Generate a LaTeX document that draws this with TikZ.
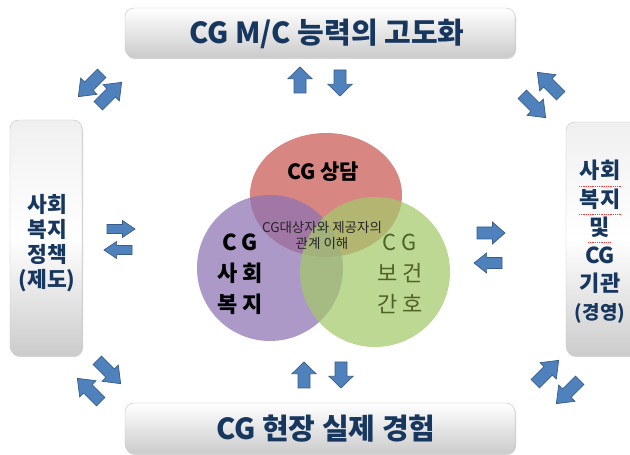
\documentclass[tikz,border=0pt]{standalone}
\usepackage{fontspec}
\newfontfamily\kr{Noto Sans CJK KR}
\usetikzlibrary{shadows}
\definecolor{navy}{HTML}{17375E}
\definecolor{arrfill}{HTML}{4F81BD}
\definecolor{arrline}{HTML}{385D8A}
\definecolor{cred}{HTML}{CC5E58}
\definecolor{cpur}{HTML}{8C72B4}
\definecolor{cgrn}{HTML}{A4C96A}
\definecolor{gtext}{HTML}{4F6228}
\newcommand\blk[6]{%
\begin{scope}[shift={(#1,455-#2)},rotate=#3]
\filldraw[blkarrow] ({-#4/2},{-#6/2}) -- ({0.05*#4},{-#6/2}) -- ({0.05*#4},{-#5/2}) -- ({#4/2},0) -- ({0.05*#4},{#5/2}) -- ({0.05*#4},{#6/2}) -- ({-#4/2},{#6/2}) -- cycle;
\end{scope}}
\begin{document}
\begin{tikzpicture}[x=1pt,y=1pt,
  hbox/.style={rounded corners=9pt, draw=gray!45, top color=white, bottom color=gray!40,
    drop shadow={shadow xshift=1pt, shadow yshift=-2pt, opacity=0.35}, inner sep=0pt},
  vbox/.style={rounded corners=9pt, draw=gray!45, top color=gray!12, bottom color=gray!40, middle color=white,
    drop shadow={shadow xshift=1pt, shadow yshift=-2pt, opacity=0.35}, inner sep=0pt},
  blkarrow/.style={fill=arrfill, draw=arrline, line width=0.7pt, line join=miter},
  btxt/.style={text=navy, font=\kr\bfseries, inner sep=0pt, align=center},
  ctxt/.style={inner sep=0pt, align=center}]
\useasboundingbox (0,0) rectangle (630,455);
\clip (0,0) rectangle (630,455);
\fill[white] (0,0) rectangle (630,455);
% boxes
\node[hbox, minimum width=390pt, minimum height=49pt] (topbox) at (320,455-32.5) {};
\node[hbox, minimum width=390pt, minimum height=50pt] (botbox) at (320,455-428) {};
\node[vbox, minimum width=72pt, minimum height=235pt] (lbox) at (46,455-237.5) {};
\node[vbox, minimum width=80pt, minimum height=233pt] (rbox) at (606,455-238.5) {};
\node[btxt, font=\kr\bfseries\fontsize{29}{32}\selectfont] (toptxt) at (327,455-34) {CG M/C 능력의 고도화};
\node[btxt, font=\kr\bfseries\fontsize{29}{32}\selectfont] (bottxt) at (326,455-429) {CG 현장 실제 경험};
\node[btxt, font=\kr\bfseries\fontsize{21.5}{25}\selectfont] (ltxt) at (47,455-243) {사회\\복지\\정책\\(제도)};
\node[btxt, font=\kr\bfseries\fontsize{22}{28.2}\selectfont] (rtxt) at (600,455-242) {사회\\복지\\및\\CG\\기관\\{\fontsize{19}{28.2}\selectfont(경영)}};
\draw[red!80, densely dotted, line width=0.8pt] (579,455-186) -- (621,455-186);
\draw[red!80, densely dotted, line width=0.8pt] (579,455-214) -- (621,455-214);
\draw[red!80, densely dotted, line width=0.8pt] (588,455-242) -- (611,455-242);
% circles
\fill[cred, opacity=0.75] (326,455-195) ellipse [x radius=76, y radius=62];
\fill[cpur, opacity=0.72] (270,455-268) circle [radius=73];
\fill[cgrn, opacity=0.72] (375,455-272) circle [radius=75];
\node[ctxt, font=\kr\bfseries\fontsize{21}{24}\selectfont] (c1) at (323,455-172) {CG 상담};
\node[ctxt, font=\kr\bfseries\fontsize{22}{31}\selectfont] (c2) at (240,455-274) {C G\\사 회\\복 지};
\node[ctxt, text=gtext, font=\kr\fontsize{22}{31}\selectfont] (c3) at (400,455-274) {C G\\보 건\\간 호};
\node[ctxt, text=black!85, font=\kr\fontsize{13.5}{16}\selectfont] (c4) at (322,455-235) {CG대상자와 제공자의\\관계 이해};
% arrows
\blk{300}{80}{90}{26}{24}{12}
\blk{340}{83}{-90}{26}{24}{12}
\blk{304}{375}{90}{26}{24}{12}
\blk{341}{375}{-90}{26}{24}{12}
\blk{121}{229}{0}{28}{17}{9}
\blk{118}{250}{180}{28}{17}{9}
\blk{491}{233}{0}{28}{22}{12}
\blk{488}{263}{180}{28}{20}{11}
\blk{90}{85}{225}{33}{23}{12}
\blk{110}{94}{45}{33}{23}{12}
\blk{549}{84}{135}{33}{23}{12}
\blk{534}{106}{-45}{33}{23}{12}
\blk{109}{372}{-45}{33}{23}{12}
\blk{89}{390}{135}{33}{23}{12}
\blk{547}{372}{45}{33}{23}{12}
\blk{568}{392}{225}{33}{23}{12}
\end{tikzpicture}
\end{document}
